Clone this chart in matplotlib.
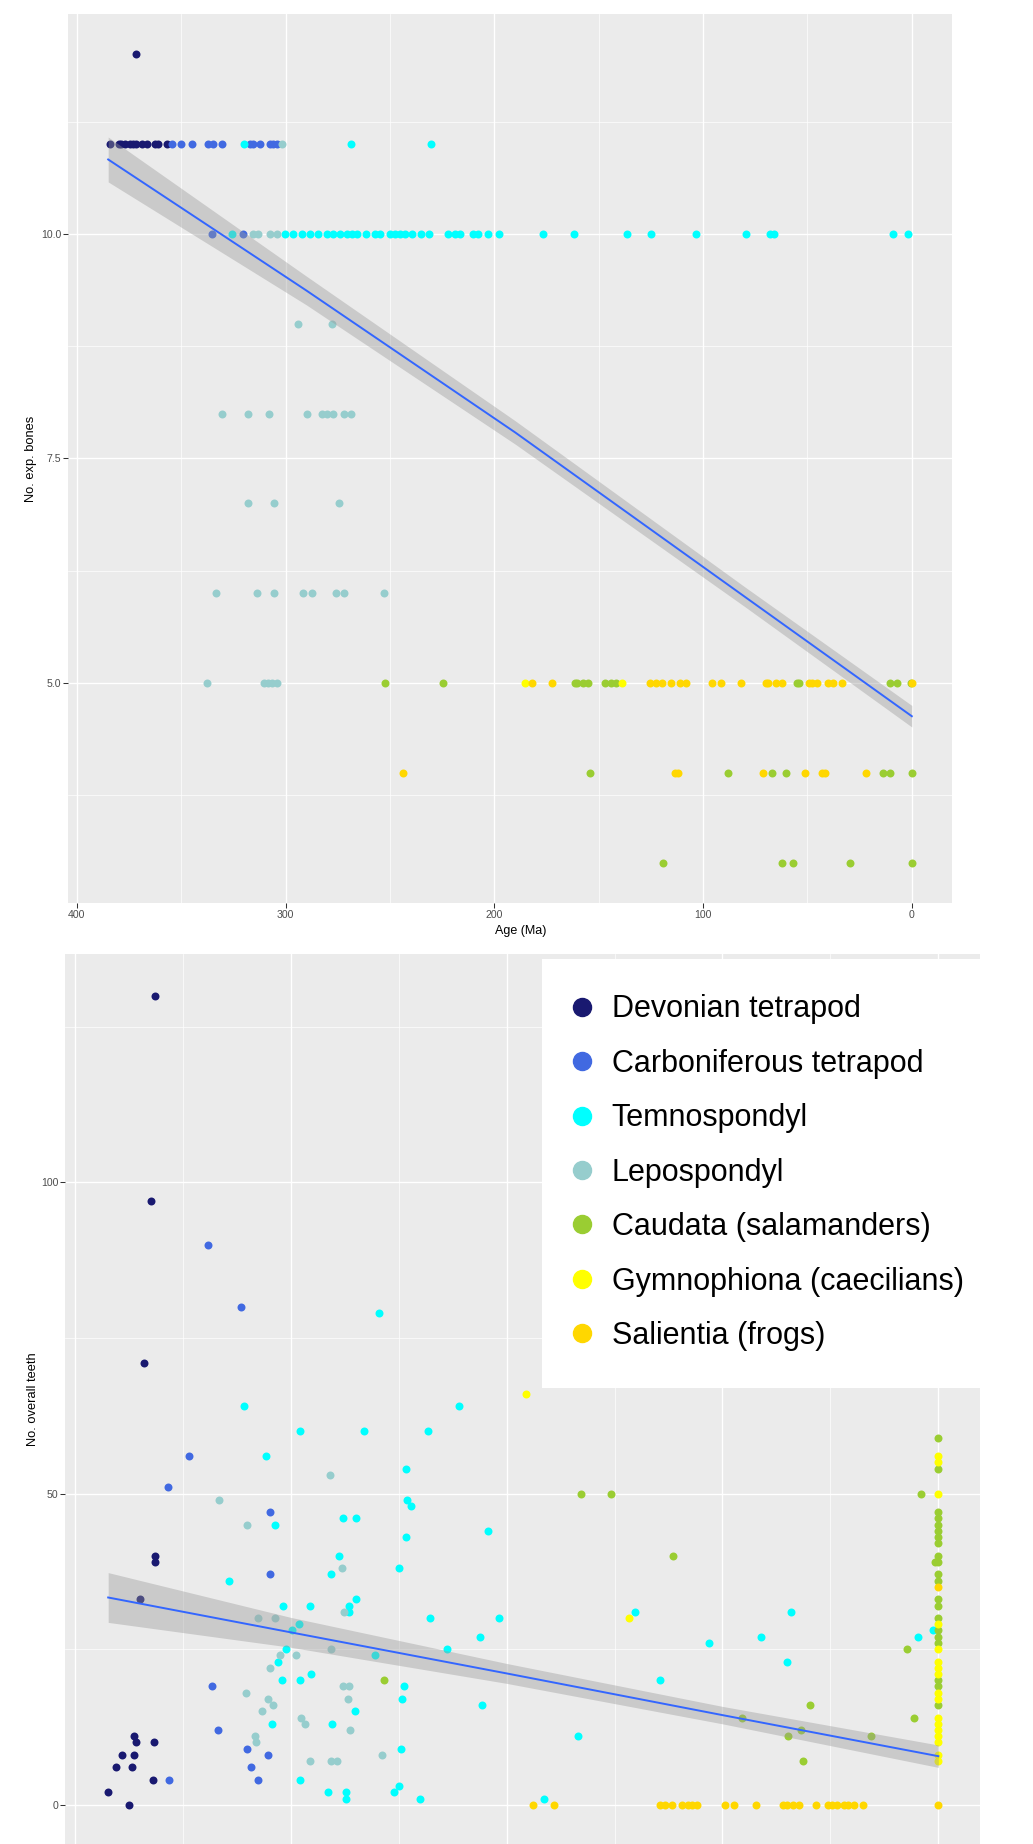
import matplotlib
matplotlib.use("Agg")
import matplotlib.pyplot as plt
from matplotlib.lines import Line2D
from matplotlib.patches import Rectangle
from matplotlib.ticker import MultipleLocator, FormatStrFormatter

plt.rcParams["font.family"] = ["Liberation Sans", "DejaVu Sans"]

groups = [
    "Devonian tetrapod",
    "Carboniferous tetrapod",
    "Temnospondyl",
    "Lepospondyl",
    "Caudata (salamanders)",
    "Gymnophiona (caecilians)",
    "Salientia (frogs)",
]
group_colors = ["#191970", "#4169E1", "#00FFFF", "#96CDCD", "#9ACD32", "#FFFF00", "#FFD700"]

# --- top panel: number of exposed bones vs age (Ma) ---
bones_devonian = [(371.7, 12), (384, 11), (380, 11), (379, 11), (377, 11), (374.5, 11), (373, 11),
                  (371.5, 11), (369, 11), (366.5, 11), (362.5, 11), (361, 11), (357, 11)]
bones_carboniferous = [(354.6, 11), (350.1, 11), (345, 11), (337, 11), (334.6, 11), (330.6, 11),
                       (317, 11), (315.5, 11), (312.3, 11), (307.5, 11), (305.9, 11), (304.3, 11),
                       (335.1, 10), (320.3, 10)]
bones_temno = [(320, 11), (268.8, 11), (230.4, 11),
               (325.8, 10), (300.3, 10), (296.3, 10), (292.3, 10), (288.3, 10), (284.3, 10),
               (280.3, 10), (277.1, 10), (273.9, 10), (270.7, 10), (268.3, 10), (265.9, 10),
               (261.5, 10), (257.2, 10), (254.8, 10), (250.0, 10), (247.6, 10), (245.2, 10),
               (242.8, 10), (239.6, 10), (235.3, 10), (231.2, 10), (222.0, 10), (218.8, 10),
               (216.4, 10), (210.1, 10), (207.7, 10), (202.9, 10), (197.6, 10), (176.7, 10),
               (161.8, 10), (136.3, 10), (125.1, 10), (103.5, 10), (79.4, 10), (67.9, 10),
               (66.0, 10), (8.8, 10), (1.9, 10)]
bones_lepo = [(301.7, 11), (315.5, 10), (313.1, 10), (307.5, 10), (304.3, 10),
              (294.2, 9), (277.9, 9),
              (330.6, 8), (317.9, 8), (307.8, 8), (289.9, 8), (282.7, 8), (280.0, 8), (277.4, 8),
              (272.0, 8), (268.8, 8),
              (317.9, 7), (305.4, 7), (274.6, 7),
              (333.5, 6), (313.9, 6), (305.6, 6), (291.8, 6), (287.3, 6), (275.9, 6), (272.0, 6),
              (253.0, 6),
              (337.8, 5), (310.2, 5), (308.3, 5), (306.7, 5), (304.3, 5)]
bones_caudata = [(252.2, 5), (224.7, 5), (161.4, 5), (160.3, 5), (157.7, 5), (155.0, 5), (147.0, 5),
                 (144.3, 5), (141.9, 5), (55.1, 5), (54.0, 5), (10.4, 5), (7.2, 5), (0.5, 5),
                 (154.2, 4), (88.1, 4), (67.1, 4), (60.2, 4), (14.0, 4), (10.4, 4), (0, 4),
                 (119.0, 3), (62.0, 3), (57.0, 3), (29.6, 3), (0, 3)]
bones_gymno = [(185.3, 5), (139.0, 5)]
bones_salientia = [(182.1, 5), (172.5, 5), (125.4, 5), (122.7, 5), (119.8, 5), (115.5, 5), (111.0, 5),
                   (108.3, 5), (95.6, 5), (91.5, 5), (82.0, 5), (70.0, 5), (68.7, 5), (65.0, 5),
                   (62.3, 5), (49.1, 5), (47.9, 5), (45.6, 5), (40.3, 5), (37.6, 5), (33.6, 5), (0, 5),
                   (243.6, 4), (113.4, 4), (111.8, 4), (71.4, 4), (51.2, 4), (43.1, 4), (41.6, 4),
                   (21.9, 4)]

bones_fit_age = [385, 290, 190, 80, 0]
bones_fit = [10.83, 9.37, 7.79, 5.96, 4.63]
bones_fit_lo = [10.58, 9.21, 7.66, 5.85, 4.51]
bones_fit_hi = [11.08, 9.53, 7.92, 6.07, 4.75]

# --- bottom panel: number of teeth vs age (Ma) ---
teeth_devonian = [(362.9, 130), (364.6, 97), (368.0, 71), (363.1, 40), (363.1, 39), (369.9, 33),
                  (372.5, 11), (371.7, 10), (363.4, 10), (378.4, 8), (372.8, 8), (380.8, 6),
                  (373.6, 6), (363.9, 4), (384.6, 2), (375.0, 0)]
teeth_carboniferous = [(338.5, 90), (323.2, 80), (347.2, 56), (356.8, 51), (309.5, 47), (309.5, 37),
                       (336.4, 19), (333.9, 12), (320.3, 9), (310.7, 8), (318.6, 6), (356.6, 4),
                       (315.4, 4)]
teeth_temno = [(259.0, 79), (321.9, 64), (222.1, 64), (295.9, 60), (265.9, 60), (236.6, 60),
               (311.7, 56), (246.6, 54), (246.2, 49), (244.3, 48), (276.0, 46), (269.8, 46),
               (307.5, 45), (208.8, 44), (246.6, 43), (277.7, 40), (249.9, 38), (281.4, 37),
               (328.7, 36), (303.8, 32), (291.3, 32), (273.2, 32), (269.8, 33), (272.9, 31),
               (235.7, 30), (203.6, 30), (296.2, 29), (299.6, 28), (212.3, 27), (302.1, 25),
               (261.0, 24), (227.5, 25), (306.1, 23), (304.1, 20), (295.5, 20), (290.8, 21),
               (247.7, 19), (248.6, 17), (211.6, 16), (270.1, 15), (308.7, 13), (281.1, 13),
               (248.9, 9), (295.8, 4), (282.6, 2), (274.4, 2), (274.4, 1), (252.4, 2), (249.9, 3),
               (240.3, 1), (140.5, 31), (68.4, 31), (82.1, 27), (106.4, 26), (70.1, 23),
               (129.0, 20), (167.1, 11), (9.6, 27), (2.6, 28), (182.7, 1)]
teeth_lepo = [(281.9, 53), (333.1, 49), (320.3, 45), (276.4, 38), (275.2, 31), (315.4, 30), (307.5, 30),
              (281.4, 25), (304.9, 24), (297.6, 24), (309.5, 22), (276.0, 19), (272.9, 19),
              (320.8, 18), (310.7, 17), (273.4, 17), (308.4, 16), (313.2, 15), (295.1, 14),
              (293.4, 13), (272.7, 12), (316.6, 11), (316.1, 10), (257.6, 8), (291.0, 7),
              (281.5, 7), (278.5, 7)]
teeth_caudata = [(256.8, 20), (165.4, 50), (151.6, 50), (122.8, 40), (59.3, 16), (90.8, 14),
                 (63.8, 12), (69.8, 11), (62.7, 7), (31.2, 11), (14.6, 25), (7.9, 50), (11.3, 14),
                 (1.5, 39), (0, 59), (0, 54), (0, 47), (0, 46), (0, 45), (0, 44), (0, 43), (0, 42),
                 (0, 40), (0, 39), (0, 37), (0, 36), (0, 33), (0, 32), (0, 30), (0, 28), (0, 27),
                 (0, 26), (0, 20), (0, 19), (0, 16)]
teeth_gymno = [(191.0, 66), (143.5, 30), (0, 56), (0, 55), (0, 50), (0, 29), (0, 25), (0, 23), (0, 22),
               (0, 21), (0, 18), (0, 17), (0, 14), (0, 13), (0, 12), (0, 11), (0, 10), (0, 8), (0, 7)]
teeth_salientia = [(188.0, 0), (177.9, 0), (128.9, 0), (126.6, 0), (123.5, 0), (118.9, 0), (115.8, 0),
                   (114.3, 0), (111.9, 0), (98.8, 0), (94.5, 0), (84.6, 0), (72.1, 0), (70.2, 0),
                   (67.2, 0), (64.4, 0), (56.8, 0), (50.9, 0), (49.4, 0), (47.1, 0), (43.7, 0),
                   (41.7, 0), (38.9, 0), (34.7, 0), (0, 0), (0, 35)]

teeth_fit_age = [384.6, 300, 200, 100, 0]
teeth_fit = [33.3, 27.7, 21.1, 14.4, 7.8]
teeth_fit_lo = [29.3, 25.3, 19.5, 13.0, 6.0]
teeth_fit_hi = [37.3, 30.1, 22.7, 15.8, 9.6]

bones_data = [bones_devonian, bones_carboniferous, bones_temno, bones_lepo,
              bones_caudata, bones_gymno, bones_salientia]
teeth_data = [teeth_devonian, teeth_carboniferous, teeth_temno, teeth_lepo,
              teeth_caudata, teeth_gymno, teeth_salientia]


def style_panel(ax):
    ax.set_facecolor("#EBEBEB")
    for spine in ax.spines.values():
        spine.set_visible(False)
    ax.set_axisbelow(True)
    ax.grid(which="major", color="white", linewidth=1.0)
    ax.grid(which="minor", color="white", linewidth=0.5)
    ax.tick_params(which="major", length=3.4, width=0.75, color="#333333",
                   labelsize=7.6, labelcolor="#4D4D4D", pad=1.5)
    ax.tick_params(which="minor", length=0)
    ax.xaxis.set_major_locator(MultipleLocator(100))
    ax.xaxis.set_minor_locator(MultipleLocator(50))


def draw_panel(ax, data, fit_age, fit, fit_lo, fit_hi):
    for pts, color in zip(data, group_colors):
        ages = [p[0] for p in pts]
        vals = [p[1] for p in pts]
        ax.scatter(ages, vals, s=33, color=color, linewidths=0, zorder=2)
    # regression ribbon sits on top of the points, as in ggplot
    ax.fill_between(fit_age, fit_lo, fit_hi, color="#999999", alpha=0.4, linewidth=0, zorder=3)
    ax.plot(fit_age, fit, color="#3366FF", linewidth=1.4, zorder=4)


W, H = 1033, 1844
fig = plt.figure(figsize=(W / 100, H / 100), dpi=100)

# top panel
ax1 = fig.add_axes([68 / W, 1 - 903 / H, 884 / W, 889 / H])
style_panel(ax1)
draw_panel(ax1, bones_data, bones_fit_age, bones_fit, bones_fit_lo, bones_fit_hi)
ax1.set_xlim(404.25, -19.25)
ax1.set_ylim(2.55, 12.45)
ax1.yaxis.set_major_locator(MultipleLocator(2.5))
ax1.yaxis.set_minor_locator(MultipleLocator(1.25))
ax1.yaxis.set_major_formatter(FormatStrFormatter("%.1f"))
ax1.set_xlabel("Age (Ma)", fontsize=9)
ax1.set_ylabel("No. exp. bones", fontsize=9.3)
ax1.xaxis.set_label_coords(0.5124, -0.0247)
ax1.yaxis.set_label_coords(-0.0354, 0.5)

# bottom panel (cut off at the bottom like the source image)
ax2 = fig.add_axes([65 / W, 0, 915 / W, 890 / H])
style_panel(ax2)
draw_panel(ax2, teeth_data, teeth_fit_age, teeth_fit, teeth_fit_lo, teeth_fit_hi)
ax2.set_xlim(404.6, -19.3)
ax2.set_ylim(-6.31, 136.7)
ax2.yaxis.set_major_locator(MultipleLocator(50))
ax2.yaxis.set_minor_locator(MultipleLocator(25))
ax2.tick_params(axis="x", which="both", bottom=False, labelbottom=False)
ax2.set_ylabel("No. overall teeth", fontsize=9.3)
ax2.yaxis.set_label_coords(-0.0281, 0.5)

# legend on a white box
ax2.add_patch(Rectangle((0.5213, 0.5124), 0.4787, 0.482, transform=ax2.transAxes,
                        facecolor="white", edgecolor="none", zorder=5))
handles = [Line2D([0], [0], marker="o", linestyle="", color=c, markersize=13, label=g)
           for g, c in zip(groups, group_colors)]
leg = ax2.legend(handles=handles, loc="upper left", bbox_to_anchor=(0.555, 0.9546),
                 frameon=False, fontsize=22, handlelength=0.6, handletextpad=0.67,
                 labelspacing=0.8, borderpad=0, borderaxespad=0)
leg.set_zorder(6)

fig.savefig("out.png", dpi=100)
